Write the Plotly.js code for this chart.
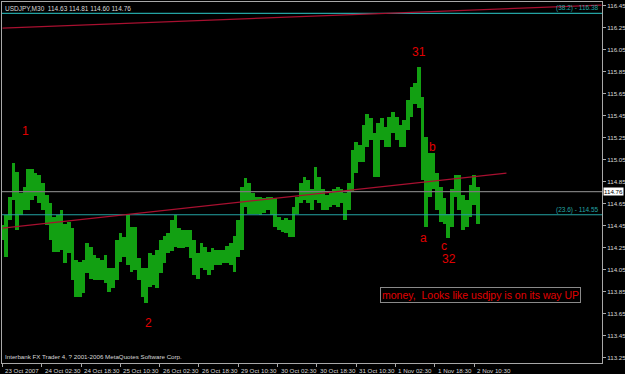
<!DOCTYPE html>
<html>
<head>
<meta charset="utf-8">
<script src="https://cdn.plot.ly/plotly-3.0.1.min.js"></script>
<style>
html,body{margin:0;padding:0;background:#000;}
#chart{width:625px;height:374px;}
</style>
</head>
<body>
<div id="chart"></div>
<script>
// USDJPY M30, sampled every 1.5 trading hours (3 bars) from 23 Oct 2007 10:30
const stepHours = 1.5;
const highs = [
114.46,114.55,114.71,115.02,114.94,114.75,114.80,114.97,114.97,114.93,
114.91,114.84,114.73,114.66,114.53,114.55,114.59,114.47,114.48,114.43,
114.14,114.12,114.14,114.29,114.26,114.18,114.16,114.14,114.18,114.07,
114.07,114.32,114.38,114.35,114.56,114.44,114.44,114.16,114.07,114.07,
114.20,114.18,114.23,114.32,114.36,114.38,114.50,114.55,114.43,114.41,
114.41,114.41,114.32,114.20,114.29,114.26,114.21,114.25,114.23,114.23,
114.23,114.27,114.29,114.36,114.50,114.80,114.88,114.84,114.75,114.71,
114.71,114.70,114.71,114.71,114.70,114.53,114.50,114.52,114.50,114.62,
114.71,114.84,114.89,114.87,114.78,114.98,114.89,114.78,114.73,114.75,
114.78,114.80,114.78,114.75,114.84,115.14,115.21,115.18,115.37,115.47,
115.43,115.29,115.38,115.43,115.35,115.44,115.48,115.44,115.37,115.41,
115.59,115.71,115.75,115.89,115.62,115.26,115.11,115.11,114.93,114.80,
114.70,114.56,114.78,114.91,114.91,114.73,114.68,114.82,114.91,114.80
];
const lows = [
114.32,114.17,114.50,114.68,114.41,114.55,114.59,114.59,114.68,114.72,
114.66,114.59,114.46,114.32,114.21,114.21,114.23,114.11,114.20,113.96,
113.80,113.80,113.84,114.02,113.97,113.96,113.96,113.96,113.93,113.85,
113.88,113.96,114.12,114.17,114.09,114.03,114.05,113.96,113.80,113.75,
113.89,113.91,113.88,114.02,114.11,114.20,114.22,114.26,114.25,114.25,
114.26,114.16,114.00,113.97,114.07,114.05,114.00,114.05,114.09,114.09,
114.11,114.11,114.09,114.03,114.17,114.23,114.62,114.56,114.56,114.56,
114.55,114.57,114.59,114.55,114.44,114.41,114.39,114.38,114.35,114.35,
114.56,114.66,114.68,114.66,114.59,114.68,114.66,114.59,114.59,114.62,
114.64,114.62,114.66,114.50,114.59,114.77,114.93,115.03,115.03,115.17,
115.23,114.89,114.89,115.23,115.17,115.17,115.29,115.23,115.17,115.17,
115.32,115.44,115.56,115.52,114.87,114.44,114.71,114.78,114.59,114.48,
114.47,114.34,114.44,114.71,114.59,114.41,114.44,114.53,114.64,114.47
];
// time axis (trading hours from first bar) and labels
const tickHours = [0,16,32,48,64,80,96,112,128,144,160,176,192];
const tickLabels = ["23 Oct 2007","24 Oct 02:30","24 Oct 18:30","25 Oct 10:30","26 Oct 02:30","26 Oct 18:30","29 Oct 10:30","30 Oct 02:30","30 Oct 18:30","31 Oct 10:30","1 Nov 02:30","1 Nov 18:30","2 Nov 10:30"];
const priceTicks = [116.45,116.25,116.05,115.85,115.65,115.45,115.25,115.05,114.85,114.65,114.45,114.25,114.05,113.85,113.65,113.45,113.25];
const lastPrice = 114.76;
const fibLevels = [116.38, 114.55];
const fibNames = ["(38.2) - 116.38", "(23.6) - 114.55"];
// trendlines: [hourStart, priceStart, hourEnd, priceEnd]
const trendUpper = [0, 116.247, 243.9, 116.456];
const trendLower = [0, 114.429, 205.2, 114.929];
// wave labels
const waveText  = ["1", "31", "2", "b", "a", "c", "32"];
const waveHour  = [9.4, 169.4, 59.4, 175.1, 171.4, 179.6, 182.0];
const wavePrice = [115.31, 116.03, 113.57, 115.17, 114.34, 114.27, 114.15];
const header = "USDJPY,M30  114.63 114.81 114.60 114.76";
const footer = "Interbank FX Trader 4, ? 2001-2006 MetaQuotes Software Corp.";
const note = "money,  Looks like usdjpy is on its way UP";
const noteHour = 194.8, notePrice = 113.82;

const hours = highs.map((_, i) => i * stepHours);
const ranges = highs.map((h, i) => +(h - lows[i]).toFixed(2));

const FONT = "Liberation Sans, Arial, sans-serif";
const TXT = "#d8d8d8";
const FRAME = "#a8a8a8";
const RED = "#e00000";
const TEAL = "#23a3a3";

const trace = {
  type: "bar",
  x: hours,
  y: ranges,
  base: lows,
  width: 1.5,
  marker: {color: "#12a012", line: {width: 0}},
  hoverinfo: "skip"
};

const shapes = [
  {type:"line", xref:"paper", x0:0, x1:1, yref:"y", y0:fibLevels[0], y1:fibLevels[0], line:{color:TEAL, width:1.2}},
  {type:"line", xref:"paper", x0:0, x1:1, yref:"y", y0:fibLevels[1], y1:fibLevels[1], line:{color:TEAL, width:1.2}},
  {type:"line", xref:"paper", x0:0, x1:1, yref:"y", y0:lastPrice, y1:lastPrice, line:{color:"#7a7a7a", width:1.2}},
  {type:"line", xref:"x", yref:"y", x0:trendUpper[0], y0:trendUpper[1], x1:trendUpper[2], y1:trendUpper[3], line:{color:"#a81030", width:1.2}},
  {type:"line", xref:"x", yref:"y", x0:trendLower[0], y0:trendLower[1], x1:trendLower[2], y1:trendLower[3], line:{color:"#a81030", width:1.2}}
];

const annotations = [];
waveText.forEach((t, i) => annotations.push({
  text: t, x: waveHour[i], y: wavePrice[i], xref: "x", yref: "y",
  showarrow: false, font: {family: FONT, size: 12, color: RED}
}));
fibNames.forEach((t, i) => annotations.push({
  text: t, xref: "paper", x: 0.998, xanchor: "right", yref: "y", y: fibLevels[i], yanchor: "bottom",
  yshift: -1, showarrow: false, font: {family: FONT, size: 6.5, color: TEAL}
}));
tickHours.forEach((h, i) => annotations.push({
  text: tickLabels[i], xref: "x", x: h, xanchor: "left", xshift: 1, yref: "paper", y: 0, yanchor: "top", yshift: -2,
  showarrow: false, font: {family: FONT, size: 6.2, color: TXT}
}));
annotations.push({
  text: header, xref: "paper", x: 0, xanchor: "left", xshift: 1, yref: "paper", y: 1, yanchor: "top", yshift: -1,
  showarrow: false, font: {family: FONT, size: 6.5, color: TXT}
});
annotations.push({
  text: footer, xref: "paper", x: 0, xanchor: "left", xshift: 1, yref: "paper", y: 0, yanchor: "bottom", yshift: 1,
  showarrow: false, font: {family: FONT, size: 6.2, color: TXT}
});
annotations.push({
  text: String(lastPrice.toFixed(2)), xref: "paper", x: 1, xanchor: "left", xshift: 1, yref: "y", y: lastPrice,
  showarrow: false, bgcolor: "#ffffff", borderpad: 0, font: {family: FONT, size: 6.2, color: "#000000"}
});
annotations.push({
  text: note, xref: "x", yref: "y", x: noteHour, y: notePrice, showarrow: false,
  bordercolor: "#8a8a8a", borderwidth: 1, borderpad: 1,
  font: {family: FONT, size: 10.5, color: RED}
});

const layout = {
  width: 625, height: 374,
  paper_bgcolor: "#000000", plot_bgcolor: "#000000",
  margin: {l: 2, r: 23, t: 2, b: 11, pad: 0},
  showlegend: false,
  bargap: 0,
  xaxis: {
    range: [-0.2, 244.1], showgrid: false, zeroline: false,
    showline: true, mirror: true, linecolor: FRAME, linewidth: 1,
    ticks: "outside", ticklen: 3, tickcolor: FRAME, tickwidth: 1,
    tickvals: tickHours, ticktext: tickLabels, showticklabels: false,
    fixedrange: true
  },
  yaxis: {
    side: "right",
    range: [113.202, 116.484], showgrid: false, zeroline: false,
    showline: true, mirror: true, linecolor: FRAME, linewidth: 1,
    ticks: "outside", ticklen: 3, tickcolor: FRAME, tickwidth: 1,
    tickvals: priceTicks, ticktext: priceTicks.map(v => v.toFixed(2)),
    tickfont: {family: FONT, size: 6.2, color: TXT},
    fixedrange: true
  },
  shapes: shapes,
  annotations: annotations
};

Plotly.newPlot("chart", [trace], layout, {staticPlot: true, displayModeBar: false});
</script>
</body>
</html>
